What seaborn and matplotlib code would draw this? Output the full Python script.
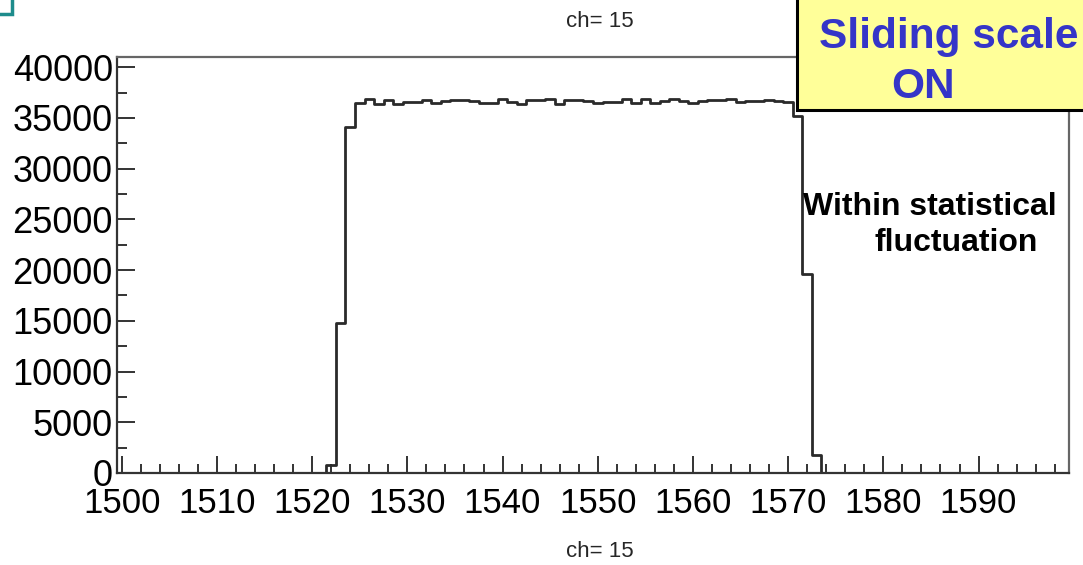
import numpy as np
import pandas as pd
import matplotlib
matplotlib.use("Agg")
import matplotlib.pyplot as plt
from matplotlib.patches import Rectangle
from matplotlib.ticker import MultipleLocator
import seaborn as sns

# Counts per channel (bins of width 1 centred on integer channels); all other bins are empty
channels = list(range(1522, 1574))
counts = [
    800, 14780, 34110,
    36510, 36840, 36410, 36740, 36410, 36570, 36570, 36740, 36510, 36670,
    36810, 36810, 36670, 36510, 36510, 36900, 36570, 36410, 36740, 36740,
    36900, 36410, 36740, 36740, 36670, 36510,
    36570, 36570, 36840, 36480, 36840, 36510, 36640, 36870, 36640, 36510,
    36640, 36740, 36740, 36840, 36570, 36640, 36640, 36740, 36640, 36570,
    35190, 19650, 1740,
]
x_ticks = [1500, 1510, 1520, 1530, 1540, 1550, 1560, 1570, 1580, 1590]
y_ticks = [0, 5000, 10000, 15000, 20000, 25000, 30000, 35000, 40000]

df = pd.DataFrame({"channel": channels, "count": counts})

sns.set_style("white")
plt.rcParams["font.family"] = ["Liberation Sans", "DejaVu Sans"]

W, H = 1083, 565
fig = plt.figure(figsize=(W / 100, H / 100), dpi=100)
ax = fig.add_axes([117 / W, 1 - 473 / H, (1069 - 117) / W, (473 - 57) / H])

sns.histplot(data=df, x="channel", weights="count", binwidth=1,
             binrange=(1499.5, 1599.5), element="step", fill=False,
             color="#2a2a2a", linewidth=2.0, ax=ax)

ax.set_xlim(1499.5, 1599.5)
ax.set_ylim(0, 41000)
ax.set_xlabel("")
ax.set_ylabel("")
ax.set_xticks(x_ticks)
ax.set_yticks(y_ticks)
ax.xaxis.set_minor_locator(MultipleLocator(2))
ax.yaxis.set_minor_locator(MultipleLocator(2500))
ax.tick_params(axis="both", which="both", direction="in", colors="#333333",
               labelcolor="black", width=1.4)
ax.tick_params(axis="x", which="major", length=12, pad=10, labelsize=25)
ax.tick_params(axis="x", which="minor", length=6.5)
ax.tick_params(axis="y", which="major", length=13, pad=3, labelsize=26)
ax.tick_params(axis="y", which="minor", length=7)
ax.tick_params(top=False, right=False, bottom=True, left=True, which="both")
for side, sp in ax.spines.items():
    sp.set_visible(True)
    sp.set_linewidth(1.6)
    sp.set_color("#666666" if side in ("top", "right") else "#333333")

# Histogram title and axis title
fig.text(600 / W, 1 - 27 / H, "ch= 15", ha="center", va="baseline", fontsize=16)
fig.text(600 / W, 1 - 557 / H, "ch= 15", ha="center", va="baseline", fontsize=16)

# Highlight box in the upper right
fig.patches.append(Rectangle((797 / W, 1 - 110 / H), 0.3, 0.3, transform=fig.transFigure,
                             facecolor="#FFFF99", edgecolor="black", linewidth=2.2, zorder=5))
fig.text(819 / W, 1 - 37 / H, "Sliding scale", ha="left", va="center", fontsize=30.5,
         fontweight="bold", color="#3535C8", zorder=6)
fig.text(891 / W, 1 - 87 / H, "ON", ha="left", va="center", fontsize=30.5,
         fontweight="bold", color="#3535C8", zorder=6)

fig.text(803 / W, 1 - 207 / H, "Within statistical", ha="left", va="center",
         fontsize=23, fontweight="bold", color="black")
fig.text(875 / W, 1 - 243 / H, "fluctuation", ha="left", va="center",
         fontsize=23, fontweight="bold", color="black")

# Corner mark
fig.patches.append(Rectangle((-20 / W, 1 - 14 / H), 32 / W, 30 / H, transform=fig.transFigure,
                             facecolor="none", edgecolor="#1E8C8C", linewidth=2.5, zorder=5))

fig.savefig("out.png", dpi=100)
